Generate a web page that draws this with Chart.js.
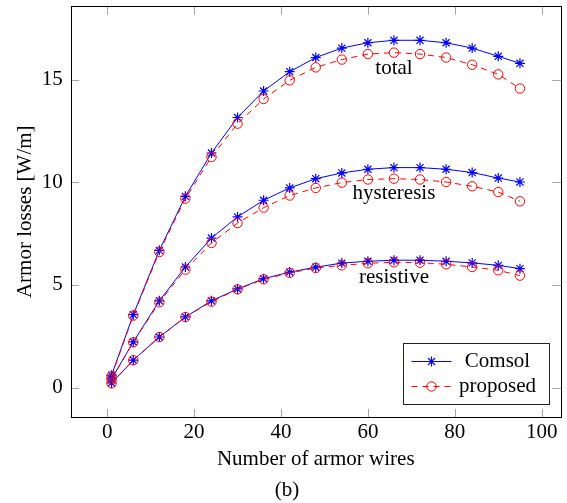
<!DOCTYPE html>
<html>
<head>
<meta charset="utf-8">
<title>Armor losses</title>
<script src="https://cdn.jsdelivr.net/npm/chart.js@4.4.1/dist/chart.umd.min.js"></script>
<style>
    body { margin: 0; background: #fff; }
    #wrap { width: 567px; height: 503px; position: relative; }
</style>
</head>
<body>
<div id="wrap"><canvas id="lossChart"></canvas></div>
<script>
// number of armor wires
const wires = [1, 6, 12, 18, 24, 30, 36, 42, 48, 54, 60, 66, 72, 78, 84, 90, 95];

// losses in W/m
const totalComsol = [0.6, 3.55, 6.68, 9.31, 11.42, 13.15, 14.44, 15.38, 16.07, 16.53, 16.79, 16.91, 16.91, 16.79, 16.53, 16.13, 15.79];
const totalProposed = [0.55, 3.5, 6.6, 9.2, 11.23, 12.85, 14.05, 14.96, 15.59, 15.97, 16.24, 16.31, 16.24, 16.07, 15.72, 15.25, 14.56];
const hystComsol = [0.42, 2.22, 4.22, 5.87, 7.28, 8.31, 9.12, 9.72, 10.17, 10.45, 10.63, 10.71, 10.71, 10.63, 10.47, 10.2, 10.01];
const hystProposed = [0.4, 2.2, 4.15, 5.74, 7.04, 8.01, 8.76, 9.35, 9.72, 9.98, 10.13, 10.17, 10.13, 10.01, 9.8, 9.52, 9.07];
const resComsol = [0.22, 1.33, 2.46, 3.44, 4.22, 4.8, 5.3, 5.62, 5.86, 6.06, 6.15, 6.2, 6.2, 6.15, 6.07, 5.95, 5.79];
const resProposed = [0.2, 1.33, 2.46, 3.43, 4.18, 4.78, 5.27, 5.58, 5.82, 5.95, 6.05, 6.1, 6.08, 6.0, 5.87, 5.71, 5.45];

const xTicks = [0, 20, 40, 60, 80, 100];
const yTicks = [0, 5, 10, 15];

const curveNames = ['total', 'hysteresis', 'resistive'];
const curveNameX = [66, 66, 66];
const curveNameY = [15.55, 9.46, 5.37];

const seriesNames = ['Comsol', 'proposed'];

const FONT = "'Liberation Serif', 'Times New Roman', serif";
const FONT_SIZE = 21;
const BLUE = '#0000ff';
const RED = '#ff0000';

function toPoints(values) {
    let pts = [];
    for (let i = 0; i < wires.length; i++) {
        pts[i] = {x: wires[i], y: values[i]};
    }
    return pts;
}

function comsolSet(values) {
    return {
        label: seriesNames[0],
        data: toPoints(values),
        borderColor: BLUE,
        borderWidth: 1,
        pointStyle: 'star',
        pointRadius: 5,
        pointBorderColor: BLUE,
        pointBorderWidth: 1.2,
        pointBackgroundColor: BLUE,
        fill: false,
        tension: 0,
        order: 1
    };
}

function proposedSet(values) {
    return {
        label: seriesNames[1],
        data: toPoints(values),
        borderColor: RED,
        borderWidth: 1,
        borderDash: [6, 5],
        pointStyle: 'circle',
        pointRadius: 4.7,
        pointBorderColor: RED,
        pointBorderWidth: 1,
        pointBackgroundColor: 'rgba(0,0,0,0)',
        fill: false,
        tension: 0,
        order: 0
    };
}

// frame, inward ticks, curve names, legend box and caption
const decorations = {
    id: 'decorations',
    afterDatasetsDraw(chart) {
        const ctx = chart.ctx;
        const a = chart.chartArea;
        const xs = chart.scales.x;
        const ys = chart.scales.y;
        const tl = 8.5;

        ctx.save();
        ctx.strokeStyle = '#a6a6a6';
        ctx.lineWidth = 1;
        ctx.beginPath();
        xTicks.forEach(function (v) {
            let px = Math.round(xs.getPixelForValue(v)) + 0.5;
            ctx.moveTo(px, a.bottom); ctx.lineTo(px, a.bottom - tl);
            ctx.moveTo(px, a.top); ctx.lineTo(px, a.top + tl);
        });
        yTicks.forEach(function (v) {
            let py = Math.round(ys.getPixelForValue(v)) + 0.5;
            ctx.moveTo(a.left, py); ctx.lineTo(a.left + tl, py);
            ctx.moveTo(a.right, py); ctx.lineTo(a.right - tl, py);
        });
        ctx.stroke();

        ctx.strokeStyle = '#000';
        ctx.lineWidth = 1;
        ctx.strokeRect(Math.round(a.left) + 0.5, Math.round(a.top) + 0.5,
            Math.round(a.right - a.left), Math.round(a.bottom - a.top));

        ctx.fillStyle = '#000';
        ctx.font = FONT_SIZE + 'px ' + FONT;
        ctx.textAlign = 'center';
        ctx.textBaseline = 'middle';
        for (let i = 0; i < curveNames.length; i++) {
            ctx.fillText(curveNames[i], xs.getPixelForValue(curveNameX[i]), ys.getPixelForValue(curveNameY[i]));
        }

        // legend
        const bw = 146, bh = 61;
        const bx = Math.round(a.right - 12 - bw) + 0.5;
        const by = Math.round(a.bottom - 13 - bh) + 0.5;
        ctx.fillStyle = '#fff';
        ctx.fillRect(bx, by, bw, bh);
        ctx.strokeStyle = '#222';
        ctx.strokeRect(bx, by, bw, bh);

        const sets = [chart.data.datasets[0], chart.data.datasets[1]];
        const rowY = [by + 18, by + 43];
        for (let i = 0; i < sets.length; i++) {
            let ds = sets[i];
            ctx.strokeStyle = ds.borderColor;
            ctx.lineWidth = 1;
            ctx.setLineDash(ds.borderDash || []);
            ctx.beginPath();
            ctx.moveTo(bx + 8, rowY[i]);
            ctx.lineTo(bx + 48, rowY[i]);
            ctx.stroke();
            ctx.setLineDash([]);
            ctx.strokeStyle = ds.pointBorderColor;
            ctx.fillStyle = ds.pointBackgroundColor;
            ctx.lineWidth = ds.pointBorderWidth;
            Chart.helpers.drawPoint(ctx, {
                pointStyle: ds.pointStyle,
                radius: ds.pointRadius,
                borderWidth: ds.pointBorderWidth
            }, bx + 28, rowY[i]);
            ctx.fillStyle = '#000';
            ctx.textAlign = 'center';
            ctx.fillText(ds.label, bx + 94, rowY[i]);
        }

        ctx.fillText('(b)', 287, 490);
        ctx.restore();
    }
};

let lossChart = new Chart(document.getElementById('lossChart'), {
    type: 'line',
    data: {
        datasets: [
            comsolSet(totalComsol),
            proposedSet(totalProposed),
            comsolSet(hystComsol),
            proposedSet(hystProposed),
            comsolSet(resComsol),
            proposedSet(resProposed)
        ]
    },
    options: {
        responsive: true,
        maintainAspectRatio: false,
        animation: false,
        events: [],
        layout: {
            padding: {left: 0, right: 4.3, top: 5.7, bottom: 0}
        },
        plugins: {
            legend: {display: false},
            tooltip: {enabled: false}
        },
        scales: {
            x: {
                type: 'linear',
                min: -8.4,
                max: 104.4,
                grid: {display: false, drawTicks: false},
                border: {display: false},
                afterBuildTicks: function (scale) {
                    scale.ticks = xTicks.map(function (v) { return {value: v}; });
                },
                afterFit: function (scale) {
                    scale.height = 85.7;
                    scale.paddingLeft = 0;
                    scale.paddingRight = 0;
                },
                ticks: {
                    padding: 3,
                    maxRotation: 0,
                    color: '#000',
                    font: {family: FONT, size: FONT_SIZE}
                },
                title: {
                    display: true,
                    text: 'Number of armor wires',
                    color: '#000',
                    font: {family: FONT, size: FONT_SIZE},
                    padding: {top: 0, bottom: 31}
                }
            },
            y: {
                type: 'linear',
                min: -1.45,
                max: 18.57,
                grid: {display: false, drawTicks: false},
                border: {display: false},
                afterBuildTicks: function (scale) {
                    scale.ticks = yTicks.map(function (v) { return {value: v}; });
                },
                afterFit: function (scale) {
                    scale.width = 70.7;
                    scale.paddingTop = 0;
                    scale.paddingBottom = 0;
                },
                ticks: {
                    padding: 8,
                    color: '#000',
                    font: {family: FONT, size: FONT_SIZE}
                },
                title: {
                    display: true,
                    text: 'Armor losses [W/m]',
                    color: '#000',
                    font: {family: FONT, size: FONT_SIZE},
                    padding: {top: 13, bottom: 0}
                }
            }
        }
    },
    plugins: [decorations]
});
</script>
</body>
</html>
